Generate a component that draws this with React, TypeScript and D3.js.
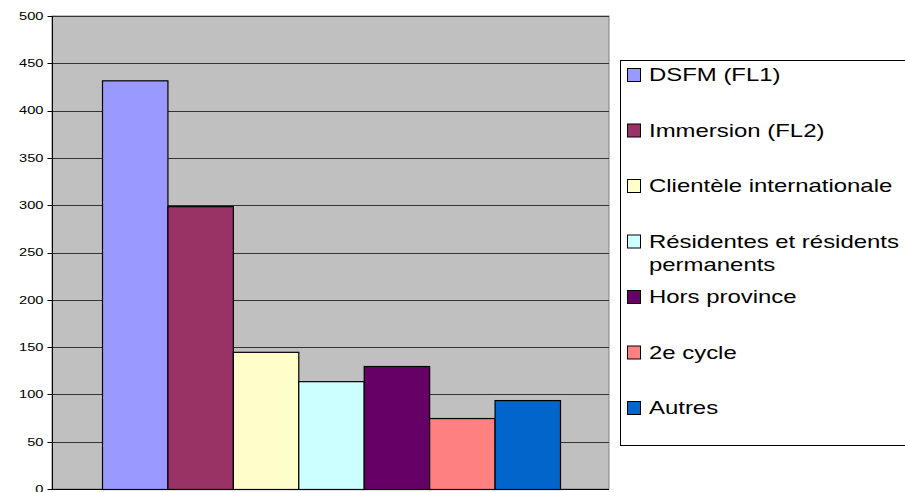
import React, { useEffect, useRef } from 'react';
import * as d3 from 'd3';

const seriesNames = [
  'DSFM (FL1)',
  'Immersion (FL2)',
  'Clientèle internationale',
  'Résidentes et résidents permanents',
  'Hors province',
  '2e cycle',
  'Autres',
];
const seriesValues = [432, 299, 145, 114, 130, 75, 94];
const seriesColors = ['#9999FF', '#993366', '#FFFFCC', '#CCFFFF', '#660066', '#FF8080', '#0066CC'];
const legendLines = [
  ['DSFM (FL1)'],
  ['Immersion (FL2)'],
  ['Clientèle internationale'],
  ['Résidentes et résidents', 'permanents'],
  ['Hors province'],
  ['2e cycle'],
  ['Autres'],
];
const yTicks = [0, 50, 100, 150, 200, 250, 300, 350, 400, 450, 500];

export default function App() {
  const svgRef = useRef<SVGSVGElement>(null);

  useEffect(() => {
    if (!svgRef.current) return;
    const svg = d3.select(svgRef.current);
    svg.selectAll('*').remove();

    const plot = { left: 52, right: 609, top: 16, bottom: 489 };
    const font = 'Liberation Sans, Arial, sans-serif';
    const stretch = 1.33; // text in the original is rendered wide

    const y = d3.scaleLinear().domain([0, 500]).range([plot.bottom, plot.top]);
    const x = d3.scaleBand<string>()
      .domain(seriesNames)
      .range([102, 560])
      .padding(0);

    // plot background
    svg.append('rect')
      .attr('x', plot.left)
      .attr('y', plot.top)
      .attr('width', plot.right - plot.left)
      .attr('height', plot.bottom - plot.top)
      .attr('fill', '#C0C0C0')
      .attr('stroke', '#808080')
      .attr('stroke-width', 1);

    // gridlines
    svg.append('g')
      .selectAll('line')
      .data(yTicks.filter(t => t > 0))
      .enter()
      .append('line')
      .attr('x1', plot.left)
      .attr('x2', plot.right)
      .attr('y1', d => Math.round(y(d)) + 0.5)
      .attr('y2', d => Math.round(y(d)) + 0.5)
      .attr('stroke', '#333')
      .attr('stroke-width', 1);

    // bars
    svg.append('g')
      .selectAll('rect')
      .data(seriesValues)
      .enter()
      .append('rect')
      .attr('x', (d, i) => x(seriesNames[i])! + 0.5)
      .attr('y', d => y(d) + 0.5)
      .attr('width', x.bandwidth())
      .attr('height', d => plot.bottom - y(d))
      .attr('fill', (d, i) => seriesColors[i])
      .attr('stroke', '#000')
      .attr('stroke-width', 1.2);

    // y axis
    const axis = svg.append('g').attr('transform', `translate(${plot.left + 0.5},0)`);
    axis.append('line')
      .attr('y1', plot.top)
      .attr('y2', plot.bottom + 0.5)
      .attr('stroke', '#000');
    axis.selectAll('.tick')
      .data(yTicks)
      .enter()
      .append('line')
      .attr('x1', -5)
      .attr('x2', 0)
      .attr('y1', d => Math.round(y(d)) + 0.5)
      .attr('y2', d => Math.round(y(d)) + 0.5)
      .attr('stroke', '#000');
    axis.selectAll('.tlabel')
      .data(yTicks)
      .enter()
      .append('text')
      .attr('transform', d => `translate(-9,${y(d)}) scale(${stretch},1)`)
      .attr('dy', '0.35em')
      .attr('text-anchor', 'end')
      .style('font-family', font)
      .style('font-size', '11px')
      .style('fill', '#000')
      .text(d => d);

    // x axis line
    svg.append('line')
      .attr('x1', plot.left)
      .attr('x2', plot.right)
      .attr('y1', plot.bottom + 0.5)
      .attr('y2', plot.bottom + 0.5)
      .attr('stroke', '#000');

    // legend
    const legend = svg.append('g');
    legend.append('rect')
      .attr('x', 620.5)
      .attr('y', 60.5)
      .attr('width', 300)
      .attr('height', 385)
      .attr('fill', '#fff')
      .attr('stroke', '#000')
      .attr('stroke-width', 1);

    const items = legend.selectAll('.item')
      .data(legendLines)
      .enter()
      .append('g')
      .attr('transform', (d, i) => `translate(627, ${75 + i * 55.5})`);

    items.append('rect')
      .attr('x', 0.5)
      .attr('y', -6.5)
      .attr('width', 13)
      .attr('height', 13)
      .attr('fill', (d, i) => seriesColors[i])
      .attr('stroke', '#000')
      .attr('stroke-width', 1);

    items.each(function (lines) {
      const g = d3.select(this);
      lines.forEach((line, j) => {
        g.append('text')
          .attr('transform', `translate(22,${j * 23}) scale(${stretch},1)`)
          .attr('dy', '0.35em')
          .style('font-family', font)
          .style('font-size', '18px')
          .style('fill', '#000')
          .text(line);
      });
    });
  }, []);

  return (
    <svg
      ref={svgRef}
      width={905}
      height={492}
      style={{ position: 'absolute', left: 0, top: 0, background: '#fff' }}
    />
  );
}
